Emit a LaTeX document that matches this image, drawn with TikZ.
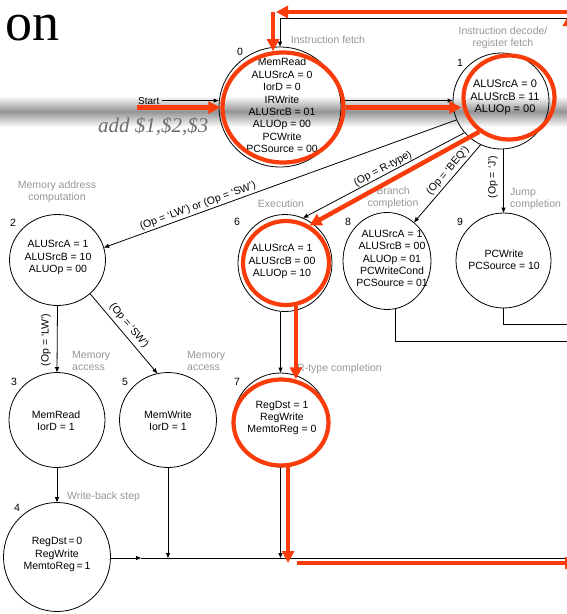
\documentclass[tikz,border=0pt]{standalone}
\usepackage{fontspec}
\setmainfont{Liberation Sans}
\newfontfamily\seriffont{Liberation Serif}
\usetikzlibrary{arrows.meta,shapes.geometric,calc}
\definecolor{hl}{RGB}{250,60,10}
\definecolor{lbl}{RGB}{150,150,150}
\begin{document}
\begin{tikzpicture}[x=1pt,y=-1pt,
  st/.style={ellipse, draw=black, line width=0.8pt, inner sep=0pt},
  hlc/.style={ellipse, draw=hl, line width=4.2pt, inner sep=0pt},
  txt/.style={font=\fontsize{10.5}{12.4}\selectfont, align=center, inner sep=0pt},
  num/.style={font=\fontsize{10.5}{12}\selectfont, inner sep=0pt},
  gl/.style={font=\fontsize{10.5}{12}\selectfont, text=lbl, align=center, inner sep=0pt},
  cond/.style={font=\fontsize{10.5}{12}\selectfont, inner sep=0pt},
  ar/.style={line width=0.8pt, -{Triangle[length=5pt,width=4pt]}},
  ln/.style={line width=0.8pt},
  har/.style={draw=hl, line width=4.5pt, -{Triangle[length=12pt,width=12pt]}},
]
\useasboundingbox (0,0) rectangle (567,614);
% background brush band
\shade[top color=white, bottom color=white, middle color=black!42] (0,96) rectangle (567,127);
% title and example
\node[font=\seriffont\fontsize{54}{54}\selectfont, anchor=base west, inner sep=0pt, text height=28pt, text depth=0pt] (title) at (5,40) {on};
\node[font=\seriffont\itshape\fontsize{21}{21}\selectfont, text=black!57, anchor=base west, inner sep=0pt] (addtxt) at (98,132) {add \$1,\$2,\$3};

% black states
\node[st, minimum width=122pt, minimum height=120pt] (s0) at (280,107) {};
\node[st, minimum width=96pt, minimum height=96pt] (s1) at (501,101) {};
\node[st, minimum width=96pt, minimum height=91pt] (s2) at (57.5,260) {};
\node[st, minimum width=96pt, minimum height=95pt] (s3) at (57,420) {};
\node[st, minimum width=107pt, minimum height=109pt] (s4) at (57,557) {};
\node[st, minimum width=97pt, minimum height=95pt] (s5) at (168,420) {};
\node[st, minimum width=94pt, minimum height=97pt] (s6) at (285,263) {};
\node[st, minimum width=94pt, minimum height=94pt] (s7) at (280.5,420) {};
\node[st, minimum width=88pt, minimum height=97pt] (s8) at (387,261) {};
\node[st, minimum width=95pt, minimum height=95pt] (s9) at (503.5,260.5) {};

% state texts
\node[txt] (s0t) at (282,105.5) {MemRead\\ALUSrcA = 0\\IorD = 0\\IRWrite\\ALUSrcB = 01\\ALUOp = 00\\PCWrite\\PCSource = 00};
\node[txt, font=\fontsize{11}{12.6}\selectfont] (s1t) at (505,97.5) {ALUSrcA = 0\\ALUSrcB = 11\\ALUOp = 00};
\node[txt] (s2t) at (58,257.5) {ALUSrcA = 1\\ALUSrcB = 10\\ALUOp = 00};
\node[txt] (s3t) at (56,420.5) {MemRead\\IorD = 1};
\node[txt] (s5t) at (168,420.5) {MemWrite\\IorD = 1};
\node[txt] (s4t) at (57,554.5) {RegDst\,=\,0\\RegWrite\\MemtoReg\,=\,1};
\node[txt] (s6t) at (282,261.5) {ALUSrcA = 1\\ALUSrcB = 00\\ALUOp = 10};
\node[txt] (s7t) at (282,418) {RegDst = 1\\RegWrite\\MemtoReg = 0};
\node[txt] (s8t) at (392,258.5) {ALUSrcA = 1\\ALUSrcB = 00\\ALUOp = 01\\PCWriteCond\\PCSource = 01};
\node[txt] (s9t) at (504,260) {PCWrite\\PCSource = 10};

% state numbers
\node[num] (n0) at (240,52) {0};
\node[num] (n1) at (460,63) {1};
\node[num] (n2) at (13,223) {2};
\node[num] (n3) at (14,382) {3};
\node[num] (n4) at (17,508) {4};
\node[num] (n5) at (125,382) {5};
\node[num] (n6) at (237,222) {6};
\node[num] (n7) at (237,382) {7};
\node[num] (n8) at (348,222) {8};
\node[num] (n9) at (460,222) {9};

% grey step labels
\node[gl] (g0) at (328,40) {Instruction fetch};
\node[gl] (g1) at (503,38) {Instruction decode/\\register fetch};
\node[gl] (g2) at (57,192) {Memory address\\computation};
\node[gl] (g6) at (281,204) {Execution};
\node[gl] (g8) at (393,198) {Branch\\completion};
\node[gl, align=left, anchor=west] (g9) at (510,199) {Jump\\completion};
\node[gl, align=left, anchor=west] (g3) at (72,360.5) {Memory\\access};
\node[gl, align=left, anchor=west] (g5) at (187,360.5) {Memory\\access};
\node[gl, anchor=west] (g4) at (67,497) {Write-back step};
\node[gl, anchor=west] (g7) at (297,369) {R-type completion};

% condition labels
\node[cond, rotate=20] (c1) at (198,206) {(Op = ‘LW’) or (Op = ‘SW’)};
\node[cond, rotate=28] (c2) at (383,169) {(Op = R-type)};
\node[cond, rotate=50] (c3) at (448,171) {(Op = ‘BEQ’)};
\node[cond, rotate=90] (c4) at (493,177) {(Op = ‘J’)};
\node[cond, rotate=90] (c5) at (46,340) {(Op = ‘LW’)};
\node[cond, rotate=-50] (c6) at (129,326) {(Op = ‘SW’)};
\node[cond, font=\fontsize{10}{12}\selectfont, anchor=base west] (start) at (138,104) {Start};

% black connectors
\coordinate (topR) at (580,18);
\coordinate (botR) at (580,558);
\coordinate (botmid) at (141,558);
\coordinate (r8) at (580,341);
\coordinate (r9) at (580,324.5);
\draw[ar] (topR) -| (s0.north);
\draw[ar] ([xshift=2pt]start.east) -- (start.east -| s0.west);
\draw[ar] (s0.6) -- (s0.6 -| s1.west);
\draw[ar] (s1.203) -- (s2.15);
\draw[ar] (s1.221) -- (s6.68);
\draw[ar] (s1.245) -- (s8.55);
\draw[ar] (s1.south -| s9.north) -- (s9.north);
\draw[ar] (s2.south) -- (s3.north);
\draw[ar] (s2.314) -- (s5.103);
\draw[ar] (s3.south) -- (s4.north);
\draw[ar] (s6.south -| s7.north) -- (s7.north);
\draw[ar] (s4.east |- botR) -- (botmid);
\draw[ln] (botmid) -- (botR);
\draw[ar] (s5.south) -- (s5.south |- botR);
\draw[ar] (s7.south) -- (s7.south |- botR);
\draw[ln] (s8.280) |- (r8);
\draw[ln] (s9.south) |- (r9);

% red highlighted path
\node[hlc, minimum width=121pt, minimum height=110pt] (s0r) at (283,107.5) {};
\node[hlc, minimum width=91pt, minimum height=84pt] (s1r) at (509,97.5) {};
\node[hlc, minimum width=86pt, minimum height=84pt] (s6r) at (286,263) {};
\node[hlc, minimum width=95pt, minimum height=86pt] (s7r) at (281,422.5) {};
\coordinate (rs) at (137,107.5);
\coordinate (rtR) at (567,12);
\coordinate (rtL) at (276,12);
\coordinate (rdb) at (288,563);
\coordinate (rbL) at (297,563);
\coordinate (rbR) at (577,563);
\coordinate (rvB) at (569,563);
\coordinate (rvT) at (569,14);
\draw[har] (rs) -- (s0r.west);
\draw[har] (s0r.east) -- (s0r.east -| s1r.west);
\draw[har] (s1r.229) -- (s6r.58);
\draw[har] (s6r.283) -- (s6r.283 |- s7r.72);
\draw[har] (s7r.279) -- (s7r.279 |- rdb);
\draw[har] (rbL) -- (rbR);
\draw[har] (rvB) -- (rvT);
\draw[har] (rtR) -- (rtL);
\draw[har] (s0r.100 |- rtL) -- (s0r.100);
\end{tikzpicture}
\end{document}
